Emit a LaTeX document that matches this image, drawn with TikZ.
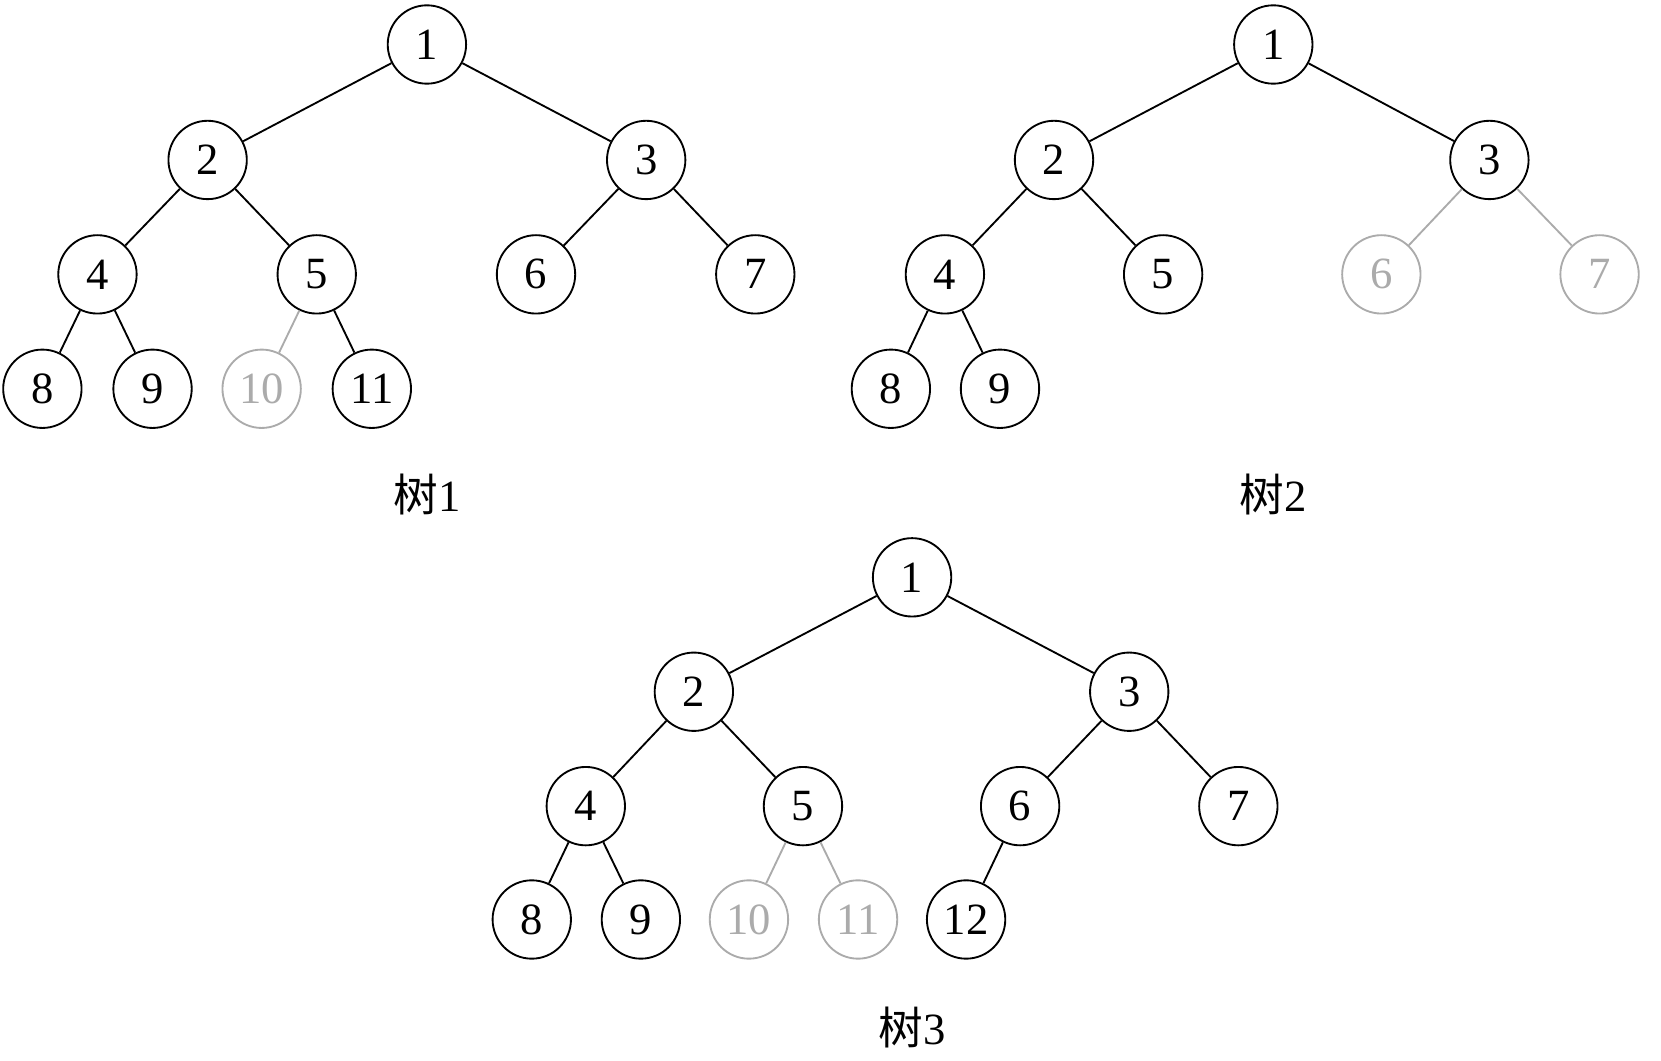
\documentclass[tikz,border=0pt]{standalone}
\usepackage{fontspec}
\setmainfont{Liberation Serif}
\newfontfamily\cjk{Noto Sans CJK SC}
\usepackage{tikz}
\definecolor{fadegray}{HTML}{ABABAB}

\begin{document}
\begin{tikzpicture}[x=0.02cm,y=-0.02cm,
  nd/.style={circle,draw,line width=1pt,minimum size=1.48cm,inner sep=0pt,font=\fontsize{24}{24}\selectfont},
  gnd/.style={nd,draw=fadegray,text=fadegray},
  lk/.style={line width=1pt},
  glk/.style={lk,draw=fadegray},
  treelabel/.style={font=\fontsize{24}{24}\selectfont}]
\useasboundingbox (0,0) rectangle (1568,1001);
% ---------- tree 1 ----------
\foreach \n/\x/\y in {1/403/42,2/196/151,3/610/151,4/92/259,5/299/259,6/506/259,7/713/259,8/40/367,9/144/367,11/351/367}{
  \node[nd] (a\n) at (\x,\y) {\n};
}
\node[gnd] (a10) at (247,367) {10};
\foreach \p/\c in {1/2,1/3,2/4,2/5,3/6,3/7,4/8,4/9,5/11}{\draw[lk] (a\p) -- (a\c);}
\draw[glk] (a5) -- (a10);
\node[treelabel] (laba) at (403,467) {{\cjk 树}1};
% ---------- tree 2 ----------
\foreach \n/\x/\y in {1/1202/42,2/995/151,3/1406/151,4/892/259,5/1098/259,8/841/367,9/944/367}{
  \node[nd] (b\n) at (\x,\y) {\n};
}
\node[gnd] (b6) at (1304,259) {6};
\node[gnd] (b7) at (1510,259) {7};
\foreach \p/\c in {1/2,1/3,2/4,2/5,4/8,4/9}{\draw[lk] (b\p) -- (b\c);}
\foreach \c in {6,7}{\draw[glk] (b3) -- (b\c);}
\node[treelabel] (labb) at (1202,467) {{\cjk 树}2};
% ---------- tree 3 ----------
\foreach \n/\x/\y in {1/861/545,2/655/653,3/1066/653,4/553/761,5/758/761,6/963/761,7/1169/761,8/502/868,9/605/868,12/912/868}{
  \node[nd] (c\n) at (\x,\y) {\n};
}
\node[gnd] (c10) at (707,868) {10};
\node[gnd] (c11) at (810,868) {11};
\foreach \p/\c in {1/2,1/3,2/4,2/5,3/6,3/7,4/8,4/9,6/12}{\draw[lk] (c\p) -- (c\c);}
\foreach \c in {10,11}{\draw[glk] (c5) -- (c\c);}
\node[treelabel] (labc) at (861,970) {{\cjk 树}3};
\end{tikzpicture}
\end{document}
